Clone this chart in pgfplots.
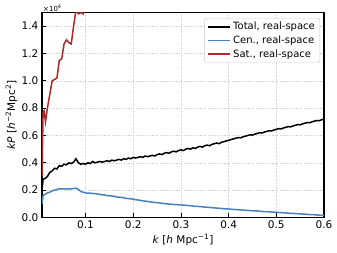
\documentclass[border=0pt]{standalone}
\usepackage{pgfplots}
\pgfplotsset{compat=1.18}
\usepackage{fontspec}
\setmainfont{DejaVu Sans}
\definecolor{cblue}{RGB}{70,130,190}
\definecolor{cred}{RGB}{178,40,40}
\begin{document}
\fontsize{10.5pt}{12pt}\selectfont
\begin{tikzpicture}
\begin{axis}[
  name=ax,
  scale only axis,
  width=282pt, height=205pt,
  xmin=0.0087, xmax=0.6, ymin=0, ymax=1.5,
  xtick={0.1,0.2,0.3,0.4,0.5,0.6},
  xticklabels={0.1,0.2,0.3,0.4,0.5,0.6},
  ytick={0,0.2,0.4,0.6,0.8,1.0,1.2,1.4},
  yticklabels={0.0,0.2,0.4,0.6,0.8,1.0,1.2,1.4},
  /pgf/number format/assume math mode=true,
  tick label style={font=\fontsize{10.5pt}{12pt}\selectfont},
  tick align=inside,
  xtick pos=lower, ytick pos=left,
  major tick length=4pt,
  tick style={black, line width=0.8pt},
  axis line style={line width=1.1pt},
  grid=major,
  major grid style={black!18, line width=0.5pt, dash pattern=on 1.2pt off 1.2pt},
  xlabel={\textit{k} [\textit{h} Mpc\textsuperscript{−1}]},
  ylabel={\textit{kP} [\textit{h}\textsuperscript{−2}Mpc\textsuperscript{2}]},
  label style={font=\fontsize{10.5pt}{12pt}\selectfont},
  xlabel style={yshift=2pt},
  ylabel style={yshift=-3pt},
  legend cell align=left,
  legend style={at={(rel axis cs:0.986,0.973)}, anchor=north east,
    draw=black!20, rounded corners=2pt, font=\fontsize{10pt}{11pt}\selectfont,
    row sep=0.5pt, inner xsep=3pt, inner ysep=2pt},
  legend image code/.code={\draw[#1, line width=1.6pt] (0pt,0pt) -- (22pt,0pt);},
]
\addplot[black, line width=1.5pt] coordinates {
(0.0087,0.20)(0.011,0.28)(0.015,0.285)(0.02,0.30)(0.025,0.33)(0.03,0.34)(0.035,0.36)(0.04,0.355)(0.045,0.38)(0.05,0.375)
(0.055,0.39)(0.06,0.385)(0.065,0.40)(0.07,0.395)(0.075,0.405)(0.08,0.43)(0.085,0.40)(0.09,0.39)(0.095,0.395)(0.10,0.39)
(0.105,0.40)(0.11,0.395)(0.115,0.41)(0.12,0.40)(0.125,0.405)(0.13,0.41)(0.135,0.405)(0.14,0.41)(0.145,0.415)(0.15,0.41)
(0.155,0.42)(0.16,0.415)(0.165,0.42)(0.17,0.425)(0.175,0.42)(0.18,0.43)(0.185,0.425)(0.19,0.435)(0.195,0.43)(0.20,0.44)
(0.205,0.435)(0.21,0.44)(0.215,0.445)(0.22,0.44)(0.225,0.45)(0.23,0.445)(0.235,0.45)(0.24,0.455)(0.245,0.45)(0.25,0.46)
(0.255,0.465)(0.26,0.46)(0.265,0.47)(0.27,0.475)(0.275,0.47)(0.28,0.48)(0.285,0.485)(0.29,0.48)(0.295,0.49)(0.30,0.495)
(0.305,0.49)(0.31,0.50)(0.315,0.505)(0.32,0.50)(0.325,0.51)(0.33,0.505)(0.335,0.515)(0.34,0.52)(0.345,0.515)(0.35,0.525)
(0.355,0.53)(0.36,0.525)(0.365,0.535)(0.37,0.54)(0.375,0.545)(0.38,0.54)(0.385,0.55)(0.39,0.555)(0.395,0.56)(0.40,0.565)
(0.405,0.57)(0.41,0.575)(0.415,0.58)(0.42,0.585)(0.425,0.583)(0.43,0.59)(0.435,0.595)(0.44,0.60)(0.445,0.605)(0.45,0.603)
(0.455,0.61)(0.46,0.615)(0.465,0.62)(0.47,0.618)(0.475,0.625)(0.48,0.63)(0.485,0.635)(0.49,0.633)(0.495,0.64)(0.50,0.645)
(0.505,0.65)(0.51,0.648)(0.515,0.655)(0.52,0.66)(0.525,0.665)(0.53,0.663)(0.535,0.67)(0.54,0.675)(0.545,0.68)(0.55,0.678)
(0.555,0.685)(0.56,0.69)(0.565,0.695)(0.57,0.693)(0.575,0.70)(0.58,0.705)(0.585,0.71)(0.59,0.708)(0.595,0.715)(0.60,0.72)
};
\addlegendentry{Total, real-space}
\addplot[cblue, line width=1.5pt] coordinates {
(0.0087,0.10)(0.011,0.16)(0.015,0.17)(0.02,0.18)(0.025,0.185)(0.03,0.195)(0.035,0.20)(0.04,0.205)(0.045,0.21)(0.05,0.21)
(0.055,0.21)(0.06,0.208)(0.065,0.21)(0.07,0.21)(0.075,0.212)(0.08,0.215)(0.085,0.205)(0.09,0.19)(0.095,0.185)(0.10,0.18)
(0.105,0.178)(0.11,0.178)(0.115,0.175)(0.12,0.175)(0.125,0.172)(0.13,0.17)(0.135,0.165)(0.14,0.165)(0.145,0.16)(0.15,0.159)
(0.155,0.157)(0.16,0.155)(0.165,0.15)(0.17,0.149)(0.175,0.147)(0.18,0.145)(0.185,0.14)(0.19,0.138)(0.195,0.136)(0.20,0.135)
(0.205,0.13)(0.21,0.128)(0.215,0.125)(0.22,0.122)(0.225,0.12)(0.23,0.117)(0.235,0.115)(0.24,0.112)(0.245,0.11)(0.25,0.108)
(0.255,0.107)(0.26,0.104)(0.265,0.102)(0.27,0.10)(0.275,0.098)(0.28,0.097)(0.285,0.095)(0.29,0.094)(0.295,0.093)(0.30,0.092)
(0.31,0.089)(0.32,0.086)(0.33,0.082)(0.34,0.080)(0.35,0.076)(0.36,0.074)(0.37,0.070)(0.38,0.068)(0.39,0.064)(0.40,0.062)
(0.41,0.059)(0.42,0.057)(0.43,0.054)(0.44,0.052)(0.45,0.049)(0.46,0.048)(0.47,0.044)(0.48,0.043)(0.49,0.040)(0.50,0.038)
(0.51,0.035)(0.52,0.034)(0.53,0.030)(0.54,0.029)(0.55,0.026)(0.56,0.025)(0.57,0.021)(0.58,0.020)(0.59,0.017)(0.60,0.015)
};
\addlegendentry{Cen., real-space}
\addplot[cred, line width=1.5pt] coordinates {
(0.0087,0.30)(0.011,0.77)(0.013,0.78)(0.016,0.70)(0.02,0.80)(0.025,0.90)(0.03,1.00)(0.035,1.01)(0.04,1.02)(0.045,1.15)
(0.05,1.16)(0.055,1.27)(0.06,1.30)(0.065,1.28)(0.07,1.27)(0.075,1.40)(0.08,1.52)(0.085,1.49)(0.09,1.50)(0.095,1.49)
(0.10,1.60)(0.11,1.65)(0.12,1.72)
};
\addlegendentry{Sat., real-space}
\end{axis}
\node[anchor=south west, inner sep=1pt, font=\fontsize{7pt}{8pt}\selectfont] at (ax.north west) {×10\textsuperscript{4}};
\path[use as bounding box] ([xshift=-42pt,yshift=-35.3pt]ax.south west) rectangle ([xshift=13pt,yshift=12.5pt]ax.north east);
\end{tikzpicture}
\end{document}
